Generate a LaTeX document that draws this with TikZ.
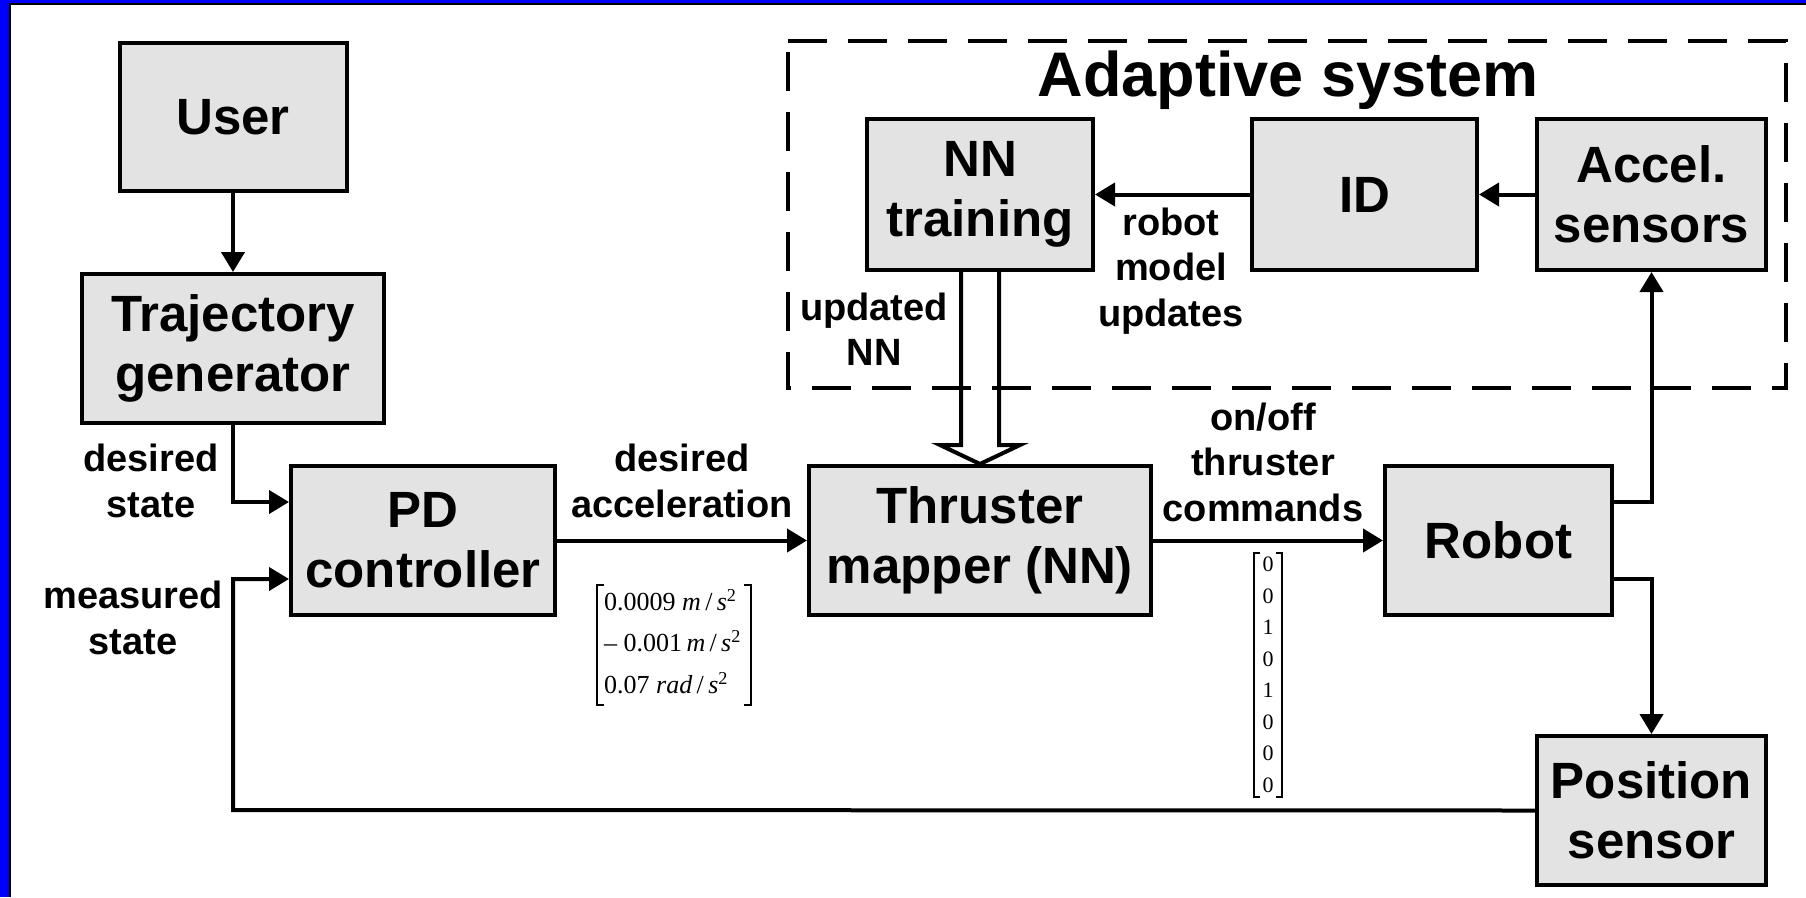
\documentclass[tikz,border=0pt]{standalone}
\usepackage{fontspec}
\setmainfont{Liberation Sans}
\newfontfamily\mtxfont{Liberation Serif}
\usetikzlibrary{arrows.meta}
\definecolor{boxgray}{RGB}{227,227,227}
\definecolor{frameblue}{RGB}{0,0,255}
\newcommand\boxfont{\fontsize{51}{60}\selectfont\bfseries}
\newcommand\lblfont{\fontsize{38}{45.5}\selectfont\bfseries}
\newcommand\ttlfont{\fontsize{63}{70}\selectfont\bfseries}
\tikzset{
  blk/.style={draw, line width=4pt, fill=boxgray, font=\boxfont, align=center, inner sep=0pt},
  lbl/.style={font=\lblfont, align=center, inner sep=0pt},
  arr/.style={line width=4pt, -{Triangle[length=20pt,width=23pt]}},
  conn/.style={line width=4pt},
  dashbox/.style={line width=3.5pt, dash pattern=on 39pt off 21pt},
  brk/.style={line width=1.8pt},
}
\begin{document}
\begin{tikzpicture}[x=1pt,y=-1pt]
\useasboundingbox (0,0) rectangle (1806,897);
% frame
\fill[frameblue] (0,0) rectangle (9,897);
\fill[frameblue] (0,0) rectangle (1806,3);
\fill[black] (9,3) rectangle (11,897);
\fill[black] (9,3) rectangle (1806,5);

% dashed adaptive system box
\draw[dashbox] (788,41) -- (1786,41) -- (1786,388) -- (788,388) -- cycle;
\node[font=\ttlfont] (title) at (1288,80) {Adaptive system};

% blocks
\node[blk, minimum width=227pt, minimum height=148pt] (user) at (233,117) {User};
\node[blk, minimum width=302pt, minimum height=149pt] (traj) at (233,348.5) {Trajectory\\generator};
\node[blk, minimum width=264pt, minimum height=149pt] (pd) at (423,540.5) {PD\\controller};
\node[blk, minimum width=342pt, minimum height=149pt] (thr) at (980,540.5) {Thruster\\mapper (NN)};
\node[blk, minimum width=227pt, minimum height=149pt] (robot) at (1498.5,540.5) {Robot};
\node[blk, minimum width=229pt, minimum height=149pt] (pos) at (1651.5,810.5) {Position\\sensor};
\node[blk, minimum width=226pt, minimum height=151pt] (nn) at (980,194.5) {NN\\training};
\node[blk, minimum width=225pt, minimum height=151pt] (id) at (1364.5,194.5) {ID};
\node[blk, minimum width=229pt, minimum height=151pt] (acc) at (1651.5,194.5) {Accel.\\sensors};

% labels
\node[lbl] (lds) at (151,481) {desired\\state};
\node[lbl] (lms) at (133,618) {measured\\state};
\node[lbl] (lda) at (682,481) {desired\\acceleration};
\node[lbl] (ltc) at (1263,462) {on/off\\thruster\\commands};
\node[lbl] (lun) at (874,329) {updated\\NN};
\node[lbl] (lrm) at (1171,271) {robot\\model\\updates};

% connectors
\draw[arr] (user.south) -- (traj.north);
\coordinate (tc) at (233,502);
\draw[arr] (traj.south) -- (tc) -- ([yshift=38.5pt]pd.west);
\coordinate (fb) at (233,810);
\draw[arr] (pos.west) -- (fb) |- ([yshift=-38.5pt]pd.west);
\draw[arr] (pd.east) -- (thr.west);
\draw[arr] (thr.east) -- (robot.west);
\draw[arr] ([yshift=38.5pt]robot.east) -| (acc.south);
\draw[arr] ([yshift=-38.5pt]robot.east) -| (pos.north);
\draw[arr] (acc.west) -- (id.east);
\draw[arr] (id.west) -- (nn.east);

% hollow update arrow
\coordinate (hl) at (961,445);
\coordinate (hlw) at (940,445);
\coordinate (hrw) at (1020,445);
\coordinate (hr) at (999,445);
\draw[conn, line join=miter] ([xshift=-19pt]nn.south) -- (hl) -- (hlw) -- (thr.north) -- (hrw) -- (hr) -- ([xshift=19pt]nn.south);

% acceleration vector
\node[anchor=west, inner sep=0pt, font=\mtxfont\fontsize{26}{41.5}\selectfont] (m1) at (604,643.5)
 {\begin{tabular}{@{}l@{}}0.0009 \textit{m}\,/\,\textit{s}\textsuperscript{2}\\
 – 0.001\,\textit{m}\,/\,\textit{s}\textsuperscript{2}\\
 0.07 \textit{rad}\,/\,\textit{s}\textsuperscript{2}\end{tabular}};
\draw[brk] (604,585) -- (597,585) -- (597,705) -- (604,705);
\draw[brk] (744,585) -- (751,585) -- (751,705) -- (744,705);

% thruster command vector
\node[inner sep=0pt, font=\mtxfont\fontsize{22}{31.5}\selectfont] (m2) at (1268,675.5)
 {\begin{tabular}{@{}c@{}}0\\0\\1\\0\\1\\0\\0\\0\end{tabular}};
\draw[brk] (1260,553) -- (1254,553) -- (1254,797) -- (1260,797);
\draw[brk] (1276,553) -- (1282,553) -- (1282,797) -- (1276,797);
\end{tikzpicture}
\end{document}
